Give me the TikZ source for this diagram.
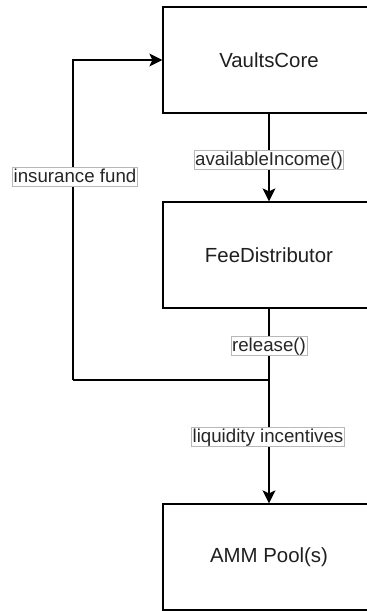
\documentclass[tikz,border=0pt]{standalone}
\usepackage{fontspec}
\setmainfont{Liberation Sans}
\usetikzlibrary{arrows.meta}
\begin{document}
\begin{tikzpicture}[x=1pt,y=-1pt,
  block/.style={draw=black,line width=1.3pt,fill=white,minimum width=212pt,minimum height=106pt,
    inner sep=0pt,font=\fontsize{20.4}{24}\selectfont,text=black!88},
  flow/.style={line width=1.3pt,-{Stealth[length=13pt,width=13pt,inset=3pt]}},
  link/.style={line width=1.3pt},
  tag/.style={draw=black!28,line width=0.6pt,fill=white,inner xsep=1pt,inner ysep=1pt,
    text height=13.5pt,text depth=3.5pt,font=\fontsize{18.7}{22}\selectfont,text=black!85}]
  \useasboundingbox (0,0) rectangle (367,611);
  \clip (0,0) rectangle (367,611);

  % three stacked components
  \node[block] (core) at (269,60) {VaultsCore};
  \node[block] (fee)  at (269,255) {FeeDistributor};
  \node[block] (amm)  at (269,557) {AMM Pool(s)};

  % split point under the distributor and loop corners
  \coordinate (split) at (269,380);
  \coordinate (loopB) at (73,380);
  \coordinate (loopT) at (73,60);

  % connectors
  \draw[flow] (core.south) -- (fee.north);
  \draw[flow] (fee.south) -- (amm.north);
  \draw[link] (split) -- (loopB);
  \draw[flow] (loopB) -- (loopT) -- (core.west);

  % connector labels
  \node[tag] (lblIncome)  at (269,160) {availableIncome()};
  \node[tag] (lblRelease) at (269,346) {release()};
  \node[tag] (lblLiq)     at (268,437) {liquidity incentives};
  \node[tag] (lblIns)     at (75,177)  {insurance fund};
\end{tikzpicture}
\end{document}
